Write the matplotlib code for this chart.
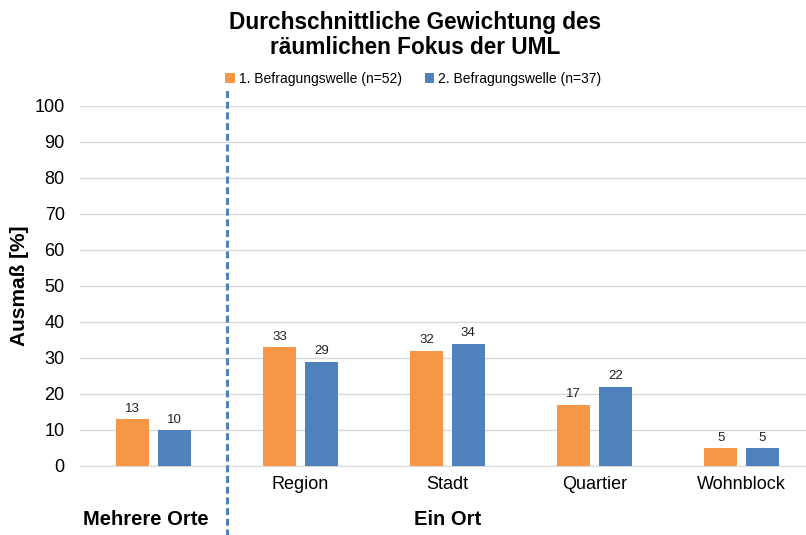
import numpy as np
import matplotlib.pyplot as plt

plt.rcParams['font.family'] = ['Liberation Sans', 'DejaVu Sans']

categories = ['', 'Region', 'Stadt', 'Quartier', 'Wohnblock']
welle1 = [13, 33, 32, 17, 5]
welle2 = [10, 29, 34, 22, 5]
labels = ['1. Befragungswelle (n=52)', '2. Befragungswelle (n=37)']
groups = ['Mehrere Orte', 'Ein Ort']

orange = '#F79646'
blue = '#4F81BD'

fig = plt.figure(figsize=(8.06, 5.35), dpi=100)
# axes runs a little past the right edge, as in the original
ax = fig.add_axes([80 / 806, 1 - 466 / 535, 735 / 806, 360 / 535])

x = np.arange(len(categories))
w = 0.225
off = 0.1415
b1 = ax.bar(x - off, welle1, w, color=orange, label=labels[0], zorder=3)
b2 = ax.bar(x + off, welle2, w, color=blue, label=labels[1], zorder=3)

for bars in (b1, b2):
    for r in bars:
        ax.text(r.get_x() + r.get_width() / 2, r.get_height() + 1.2, str(int(r.get_height())),
                ha='center', va='bottom', fontsize=9.5, color='#222222')

ax.set_xlim(-0.5, 4.5)
ax.set_ylim(0, 100)
ax.set_yticks(range(0, 101, 10))
ax.set_xticks(x)
ax.set_xticklabels(categories, fontsize=13)
ax.tick_params(axis='y', labelsize=13, length=0, pad=11)
ax.tick_params(axis='x', length=0, pad=7)
ax.grid(axis='y', color='#D9D9D9', linewidth=1, zorder=0)
for s in ['top', 'right', 'left']:
    ax.spines[s].set_visible(False)
ax.spines['bottom'].set_color('#D9D9D9')
ax.set_ylabel('Ausmaß [%]', fontsize=15, fontweight='bold')
ax.yaxis.set_label_coords(-0.07, 0.5)

# dashed separator between the two groups
ax.plot([0.5, 0.5], [-20, 105], linestyle=(0, (2.3, 1.2)), color=blue, linewidth=2.2,
        clip_on=False, zorder=4)

ax.text(-0.05, -14.8, groups[0], ha='center', va='center', fontsize=14.5, fontweight='bold')
ax.text(2, -14.8, groups[1], ha='center', va='center', fontsize=14.5, fontweight='bold')

fig.text(0.515, 0.934, 'Durchschnittliche Gewichtung des\nräumlichen Fokus der UML',
         ha='center', va='center', fontsize=16.3, fontweight='bold', linespacing=1.1)
fig.legend(loc='center', bbox_to_anchor=(0.513, 0.852), ncol=2, frameon=False,
           fontsize=10, handlelength=0.7, handleheight=0.7, handletextpad=0.3,
           columnspacing=1.6)

fig.savefig('out.png', dpi=100)
